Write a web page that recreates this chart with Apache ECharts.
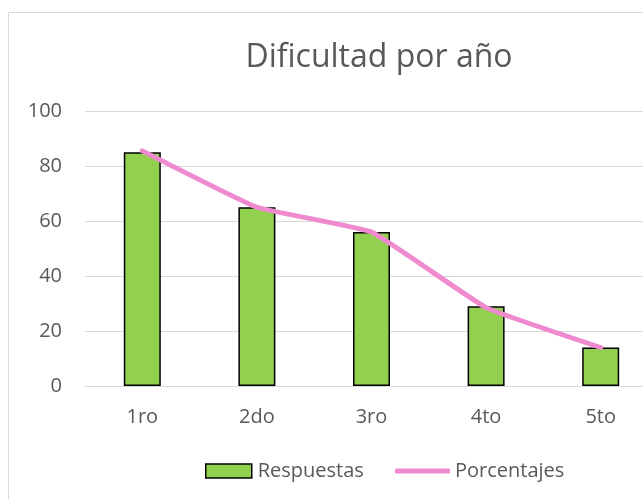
<!DOCTYPE html>
<html><head><meta charset="utf-8">
<script src="https://cdn.jsdelivr.net/npm/echarts@6/dist/echarts.min.js"></script>
<style>html,body{margin:0;padding:0;background:#fff}#c{width:643px;height:499px}</style>
</head><body><div id="c"></div>
<script>
const categories = ['1ro', '2do', '3ro', '4to', '5to'];
const respuestas = [85, 65, 56, 29, 14];
const porcentajes = [85.5, 65, 56, 28.5, 14];
const yTicks = [0, 20, 40, 60, 80, 100];

const chart = echarts.init(document.getElementById('c'));
const font = '"Open Sans", "Noto Sans", sans-serif';
const grey = '#595959';
chart.setOption({
  animation: false,
  backgroundColor: '#fff',
  graphic: [{type: 'rect', shape: {x: 8.5, y: 12.5, width: 700, height: 520}, style: {fill: 'none', stroke: '#d9d9d9', lineWidth: 1}, silent: true}],
  title: {text: 'Dificultad por año', left: 374, top: 37, textAlign: 'center',
    textStyle: {fontFamily: font, fontSize: 32, fontWeight: 'normal', color: grey}},
  legend: [
    {top: 456, left: 200, itemWidth: 46, itemHeight: 14, itemGap: 0,
     textStyle: {fontFamily: font, fontSize: 20, color: grey, padding: [0, 0, 0, 1]},
     data: [{name: 'Respuestas', icon: 'rect', itemStyle: {color: '#92D050', borderColor: '#000', borderWidth: 1.5}}]},
    {top: 456, left: 390, itemWidth: 55, itemHeight: 5, itemGap: 0,
     textStyle: {fontFamily: font, fontSize: 20, color: grey},
     data: [{name: 'Porcentajes', icon: 'roundRect', itemStyle: {color: '#F08ACF'}}]}
  ],
  grid: {left: 85, width: 573, top: 111, height: 275, outerBoundsMode: 'none', containLabel: false},
  xAxis: {type: 'category', data: categories,
    axisLine: {lineStyle: {color: '#d9d9d9'}}, axisTick: {show: false},
    axisLabel: {fontFamily: font, fontSize: 20, color: grey, margin: 21}},
  yAxis: {type: 'value', min: 0, max: 100, interval: 20,
    axisLine: {show: false}, axisTick: {show: false},
    axisLabel: {fontFamily: font, fontSize: 20, color: grey, margin: 23,
      formatter: v => yTicks.includes(v) ? String(v) : ''},
    splitLine: {lineStyle: {color: '#d9d9d9', width: 1}}},
  series: [
    {name: 'Respuestas', type: 'bar', data: respuestas, barWidth: 37,
     itemStyle: {color: '#92D050', borderColor: '#000', borderWidth: 1.5}},
    {name: 'Porcentajes', type: 'line', data: porcentajes, smooth: 0.1, symbol: 'none',
     lineStyle: {color: '#F08ACF', width: 5, cap: 'round'}, itemStyle: {color: '#F08ACF'}}
  ]
});
</script></body></html>
